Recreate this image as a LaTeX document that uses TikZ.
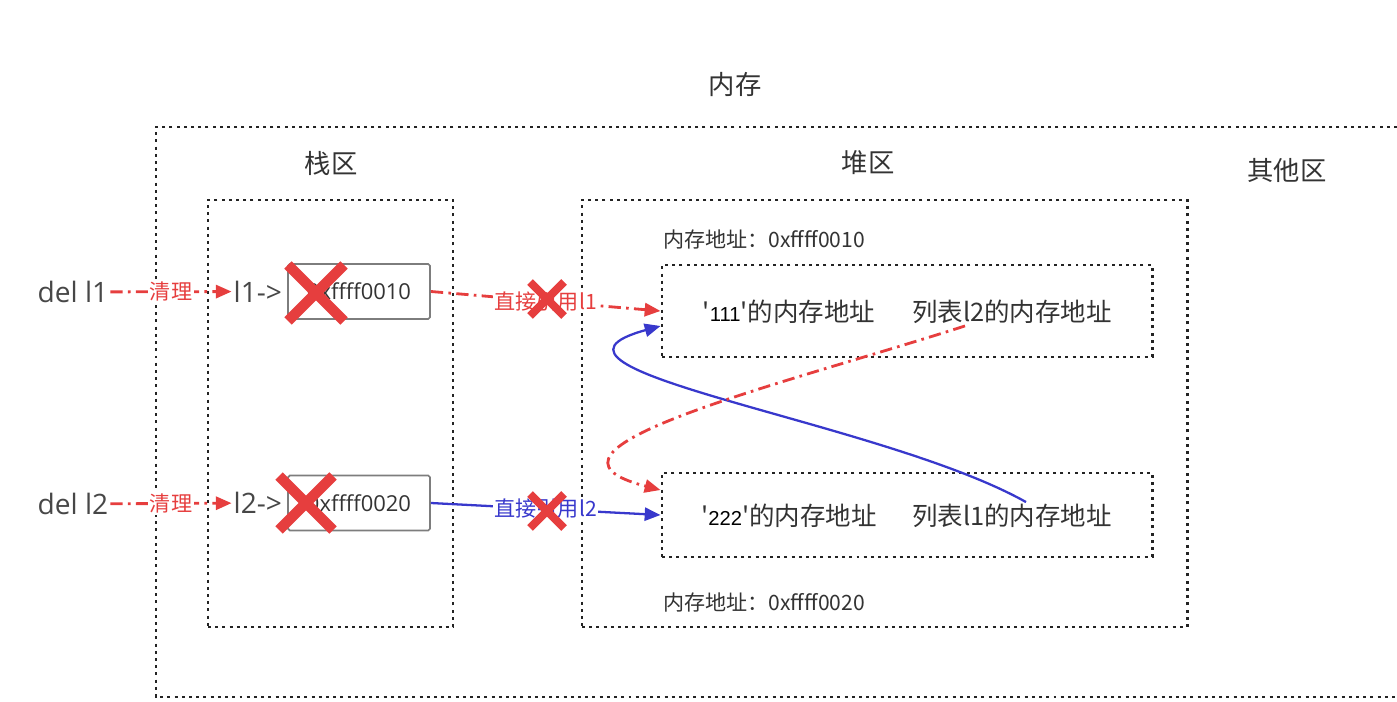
\documentclass[tikz,border=0pt]{standalone}
\usepackage{fontspec}
\setmainfont{Noto Sans CJK SC}
\newfontfamily\latinfont{Open Sans}
\newfontfamily\numfont{Liberation Sans}
\usetikzlibrary{arrows.meta}
\usetikzlibrary{positioning}
\definecolor{delred}{RGB}{230,62,62}
\definecolor{refblue}{RGB}{56,56,204}
\definecolor{framegray}{RGB}{51,51,51}
\definecolor{dotgray}{RGB}{35,35,35}
\definecolor{boxgray}{RGB}{125,125,125}
\newlength{\pxunit}
\setlength{\pxunit}{0.02cm}
\tikzstyle{zone}=[draw=dotgray, line width=1.7pt, dash pattern=on 1.7pt off 2.4pt]
\tikzstyle{zonebox}=[zone, rectangle, inner sep=0pt]
\tikzstyle{title}=[text=framegray, font=\fontsize{15}{18}\selectfont]
\tikzstyle{addr}=[text=framegray, anchor=west, inner sep=0pt, font=\fontsize{12}{14}\selectfont]
\tikzstyle{cell}=[text=framegray, inner sep=1pt, font=\fontsize{14.5}{17}\selectfont]
\tikzstyle{varlbl}=[text=framegray!90, inner sep=1pt, font=\latinfont\fontsize{16}{19}\selectfont]
\tikzstyle{ptrbox}=[draw=boxgray, line width=1pt, rounded corners=1pt, minimum width=142\pxunit, minimum height=55\pxunit, inner sep=0pt, text=framegray, font=\latinfont\fontsize{12.5}{15}\selectfont]
\tikzstyle{edgelbl}=[fill=white, inner sep=1pt, font=\fontsize{12}{14}\selectfont]
\tikzstyle{delline}=[draw=delred, line width=1.6pt, dash pattern=on 7pt off 3pt on 1.5pt off 3pt, -{Triangle[length=9pt,width=7.5pt]}]
\tikzstyle{refline}=[draw=refblue, line width=1.3pt, -{Triangle[length=9pt,width=7.5pt]}]
\tikzstyle{delx}=[draw=delred]
\newcommand{\delmark}[4]{\draw [delx, line width=#4] (#1-#3,#2-#3) -- (#1+#3,#2+#3) (#1-#3,#2+#3) -- (#1+#3,#2-#3);}
\newcommand{\numq}[1]{\textquotesingle{\numfont\color{black}\fontsize{11.5}{13}\selectfont #1}\textquotesingle}

\begin{document}
\begin{tikzpicture}[x=0.02cm, y=-0.02cm]
\useasboundingbox (0,0) rectangle (1397,702);
% memory, stack and heap
\draw [zone] (1397,127) -- (156,127) -- (156,697) -- (1397,697);
\node [zonebox, minimum width=245\pxunit, minimum height=427\pxunit] (stack) at (330.5,413.5) {};
\node [zonebox, minimum width=605\pxunit, minimum height=427\pxunit] (heap) at (884.5,413.5) {};
\node [title] (mem) at (735,85) {内存};
\node [title] (stacklbl) at (331,163) {栈区};
\node [title] (heaplbl) at (868,163) {堆区};
\node [title] (otherlbl) at (1287,170) {其他区};

% heap objects
\node [addr] (addr1) at (663,240) {内存地址：0xffff0010};
\node [addr] (addr2) at (663,603) {内存地址：0xffff0020};
\node [zonebox, minimum width=490\pxunit, minimum height=92\pxunit] (obj1) at (907,311) {};
\node [zonebox, minimum width=490\pxunit, minimum height=84\pxunit] (obj2) at (907,515) {};
\node [cell] (v111) at (789,312) {\numq{111}的内存地址};
\node [cell] (l2ref) at (1012,312) {列表l2的内存地址};
\node [cell] (v222) at (789,516) {\numq{222}的内存地址};
\node [cell] (l1ref) at (1012,516) {列表l1的内存地址};

% stack variables
\node [ptrbox] (ptr1) at (359,291.5) {0xffff0010};
\node [ptrbox] (ptr2) at (359,503) {0xffff0020};
\node [varlbl, left=3\pxunit of ptr1] (l1) {l1->};
\node [varlbl, left=3\pxunit of ptr2] (l2) {l2->};
\node [varlbl] (del1) at (73,292) {del l1};
\node [varlbl] (del2) at (73,504) {del l2};

\draw [delline] (del1) -- node [edgelbl, text=delred] {清理} (l1);
\draw [delline] (del2) -- node [edgelbl, text=delred] {清理} (l2);
\draw [delline] (ptr1.east) -- node [edgelbl, text=delred] {直接引用l1} (obj1.west);
\draw [refline] (ptr2.east) -- node [edgelbl, text=refblue] {直接引用l2} (obj2.west);
\draw [refline] ([xshift=14\pxunit]l1ref.north) .. controls +(-146,-82) and +(-160,44) .. ([yshift=-15\pxunit]obj1.west);
\draw [delline] ([xshift=-47\pxunit]l2ref.south) .. controls +(-180,58) and +(-155,-40) .. ([yshift=25\pxunit]obj2.west);

% deleted references
\delmark{316}{293}{28}{6pt}
\delmark{547}{299}{17}{4.5pt}
\delmark{306}{503}{27}{6pt}
\delmark{547}{511}{17}{4.5pt}
\end{tikzpicture}
\end{document}
